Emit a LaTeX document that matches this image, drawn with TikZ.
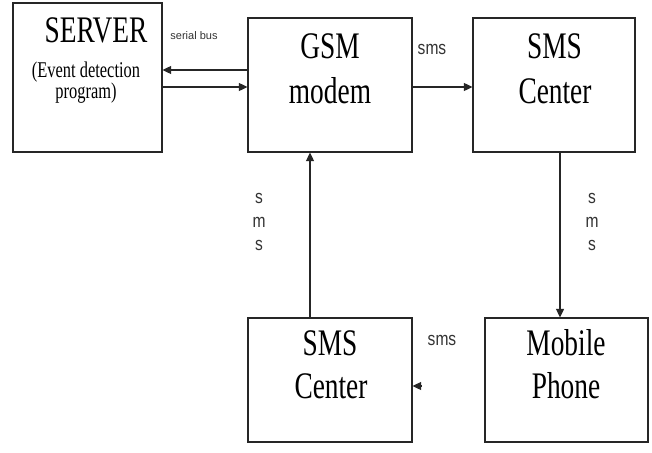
\documentclass[tikz,border=0pt]{standalone}
\usepackage{fontspec}
\setmainfont{Liberation Serif}
\newfontfamily\condserif[FakeStretch=0.73]{Liberation Serif}
\newfontfamily\lblsans[FakeStretch=0.82]{Liberation Sans}
\newfontfamily\smallsans{Liberation Sans}
\usetikzlibrary{arrows.meta}
\begin{document}
\begin{tikzpicture}[x=1pt,y=-1pt,
  blockbox/.style={draw=black!85,line width=1.2pt,inner sep=0pt,minimum width=#1},
  bigtxt/.style={anchor=base,inner sep=0pt,font=\condserif\fontsize{37.5}{45}\selectfont},
  midtxt/.style={anchor=base,inner sep=0pt,font=\condserif\fontsize{22.5}{24}\selectfont},
  lbl/.style={anchor=base,inner sep=0pt,font=\lblsans\fontsize{19}{22}\selectfont,text=black!80},
  tiny/.style={anchor=base,inner sep=0pt,font=\smallsans\fontsize{11}{13}\selectfont,text=black!80},
  arr/.style={draw=black!85,line width=1.1pt,-{Triangle[length=8.5pt,width=8pt]}}]
\useasboundingbox (0,0) rectangle (652,452);
\fill[white] (0,0) rectangle (652,452);
% boxes
\node[blockbox=149pt,minimum height=149pt] (server) at (87.5,77.5) {};
\node[blockbox=164pt,minimum height=134pt] (gsm) at (330,85) {};
\node[blockbox=162pt,minimum height=134pt] (smsc1) at (554,85) {};
\node[blockbox=164pt,minimum height=124pt] (smsc2) at (330,380) {};
\node[blockbox=163pt,minimum height=124pt] (mobile) at (566.5,380) {};
% texts
\node[bigtxt] (t1) at (96,42) {SERVER};
\node[midtxt] (t2) at (86,77) {(Event detection};
\node[midtxt] (t3) at (86,98) {program)};
\node[bigtxt] (t4) at (330,58) {GSM};
\node[bigtxt] (t5) at (330,103) {modem};
\node[bigtxt] (t6) at (554.5,58) {SMS};
\node[bigtxt] (t7) at (555,103) {Center};
\node[bigtxt] (t8) at (330,355) {SMS};
\node[bigtxt] (t9) at (331,398) {Center};
\node[bigtxt] (t10) at (566,355) {Mobile};
\node[bigtxt] (t11) at (566,398) {Phone};
% labels
\node[tiny] (l1) at (194,40) {serial bus};
\node[lbl] (l2) at (432,55) {sms};
\node[lbl] (l3) at (442,345) {sms};
\node[lbl] (l4a) at (259,203) {s};
\node[lbl] (l4b) at (259,227) {m};
\node[lbl] (l4c) at (259,250) {s};
\node[lbl] (l5a) at (592,203) {s};
\node[lbl] (l5b) at (592,227) {m};
\node[lbl] (l5c) at (592,250) {s};
% connectors
\draw[arr] (gsm.west |- 0,70) -- (server.east |- 0,70);
\draw[arr] (server.east |- 0,87) -- (gsm.west |- 0,87);
\draw[arr] (gsm.east |- 0,87) -- (smsc1.west |- 0,87);
\draw[arr] (smsc1.south -| 560,0) -- (mobile.north -| 560,0);
\draw[arr] (smsc2.north -| 310,0) -- (gsm.south -| 310,0);
\coordinate (mp) at ([xshift=8.5pt]smsc2.east |- 0,386);
\draw[arr] (mp) -- (smsc2.east |- 0,386);
\end{tikzpicture}
\end{document}
